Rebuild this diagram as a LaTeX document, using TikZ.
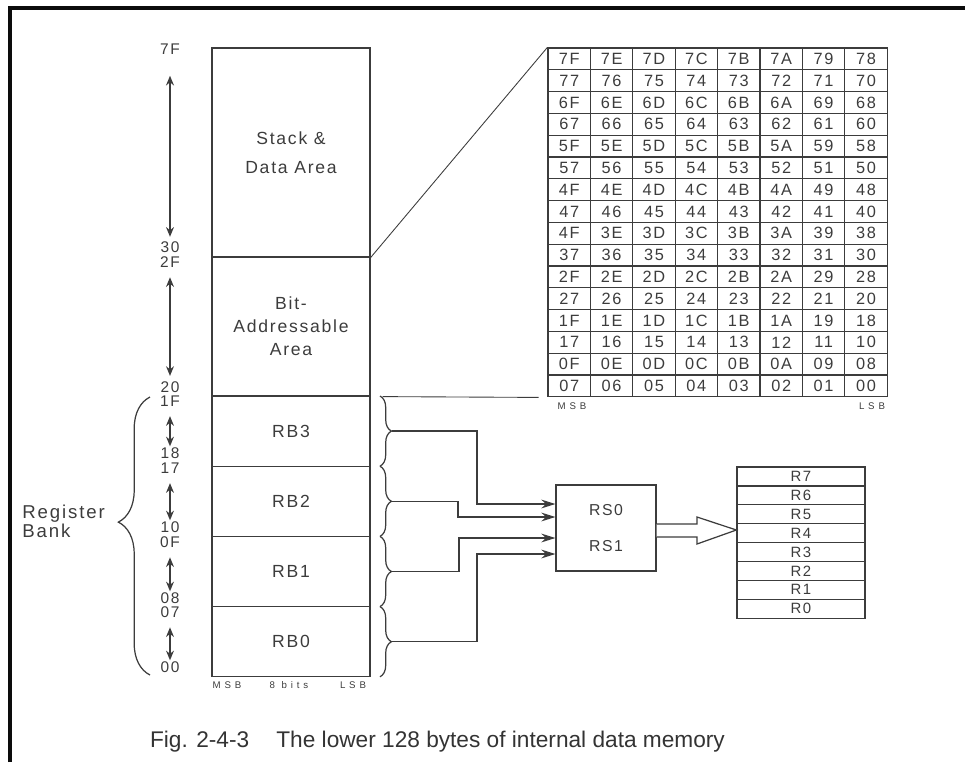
\documentclass[tikz,border=0pt]{standalone}
\usepackage{fontspec}
\setmainfont{Liberation Sans}
\newfontfamily\scanfont[LetterSpace=10]{Liberation Sans}
\newfontfamily\widefont[LetterSpace=40]{Liberation Sans}
\usetikzlibrary{positioning,calc,arrows.meta,decorations.pathreplacing}
\definecolor{ScanInk}{RGB}{60,60,60}
\definecolor{FrameBlack}{RGB}{12,12,12}

\begin{document}
\begin{tikzpicture}[
    x=0.02cm,
    y=-0.02cm,
    text=ScanInk,
    font=\scanfont\fontsize{10}{12}\selectfont,
    area/.style={
        draw=ScanInk,
        line width=0.7pt,
        minimum width=3.16cm,
        inner sep=0pt,
        align=center
    },
    cell/.style={
        draw=ScanInk,
        line width=0.7pt,
        minimum width=0.848cm,
        minimum height=0.436cm,
        inner sep=0pt,
        font=\scanfont\fontsize{9.3}{10}\selectfont
    },
    regrow/.style={
        draw=ScanInk,
        line width=0.7pt,
        minimum width=2.56cm,
        minimum height=0.378cm,
        inner sep=0pt,
        font=\scanfont\fontsize{8.5}{9}\selectfont
    },
    addr/.style={
        inner sep=0pt,
        font=\scanfont\fontsize{8.8}{9}\selectfont
    },
    bitnote/.style={
        inner sep=0pt,
        font=\widefont\fontsize{5.5}{6}\selectfont
    },
    span/.style={
        {Stealth[length=5.5pt,width=4.5pt]}-{Stealth[length=5.5pt,width=4.5pt]},
        draw=ScanInk,
        line width=0.8pt,
        shorten <=5.4pt,
        shorten >=0.5pt
    },
    wire/.style={
        -{Stealth[length=8pt,width=5pt]},
        draw=ScanInk,
        line width=0.7pt
    },
    bankbrace/.style={
        decorate,
        decoration={brace, amplitude=#1},
        draw=ScanInk,
        line width=0.7pt
    },
    zoomline/.style={
        draw=ScanInk,
        line width=0.5pt
    }
]

\useasboundingbox (0,0) rectangle (965,762);
\draw[line width=2.3pt, FrameBlack] (10,762) -- (10,8) -- (965,8);

\node[area, minimum height=4.18cm] (stack) at (291,152.5) {Stack \&\\[4.4pt]Data Area};
\node[area, minimum height=2.78cm, font=\scanfont\fontsize{10}{13}\selectfont] (bit) at (291,326.5) {Bit-\\Addressable\\Area};
\foreach \bank [count=\k from 0] in {3,2,1,0} {
    \node[area, minimum height=1.404cm] (rb\bank) at (291,431.1+70.2*\k) {RB\bank};
    \draw[bankbrace=6.5pt] (380,396+70.2*\k) -- (380,466.2+70.2*\k);
    \coordinate (tip\bank) at (391.5,431.1+70.2*\k);
}

\node[bitnote] (msb) at (227,685) {MSB};
\node[bitnote] (bits) at (289,685) {8 bits};
\node[bitnote] (lsb) at (353,685) {LSB};

\node[addr] (a7F) at (170,49) {7F};
\node[addr] (a30) at (170,247) {30};
\node[addr] (a2F) at (170,262) {2F};
\node[addr] (a20) at (170,387) {20};
\node[addr] (a1F) at (170,401) {1F};
\node[addr] (a18) at (170,453) {18};
\node[addr] (a17) at (170,468) {17};
\node[addr] (a10) at (170,527) {10};
\node[addr] (a0F) at (170,542) {0F};
\node[addr] (a08) at (170,598) {08};
\node[addr] (a07) at (170,612) {07};
\node[addr] (a00) at (170,667) {00};

\draw[span, shorten <=12pt, shorten >=2.5pt] (a7F) -- (a30);
\draw[span, shorten >=3pt] (a2F) -- (a20);
\draw[span] (a1F) -- (a18);
\draw[span] (a17) -- (a10);
\draw[span] (a0F) -- (a08);
\draw[span] (a07) -- (a00);

\draw[bankbrace=18pt, decoration={aspect=0.55}] (150,675) -- (150,397);
\node[anchor=west, align=left, inner sep=0pt, font=\scanfont\fontsize{10.6}{9}\selectfont] (bank) at (22,521) {Register\\Bank};

\foreach \row [count=\rowidx from 0] in {
    {7F,7E,7D,7C,7B,7A,79,78},
    {77,76,75,74,73,72,71,70},
    {6F,6E,6D,6C,6B,6A,69,68},
    {67,66,65,64,63,62,61,60},
    {5F,5E,5D,5C,5B,5A,59,58},
    {57,56,55,54,53,52,51,50},
    {4F,4E,4D,4C,4B,4A,49,48},
    {47,46,45,44,43,42,41,40},
    {4F,3E,3D,3C,3B,3A,39,38},
    {37,36,35,34,33,32,31,30},
    {2F,2E,2D,2C,2B,2A,29,28},
    {27,26,25,24,23,22,21,20},
    {1F,1E,1D,1C,1B,1A,19,18},
    {17,16,15,14,13,12,11,10},
    {0F,0E,0D,0C,0B,0A,09,08},
    {07,06,05,04,03,02,01,00}} {
    \foreach \val [count=\colidx from 0] in \row {
        \node[cell] (m-\rowidx-\colidx) at (569.2+42.4*\colidx,58.9+21.8*\rowidx) {\val};
    }
}
\node[bitnote] (gmsb) at (572,406) {MSB};
\node[bitnote] (glsb) at (872,406) {LSB};

\draw[zoomline] (stack.south east) -- (m-0-0.north west);
\draw[zoomline] ([xshift=6.8pt]bit.south east) -- ([xshift=-5pt]m-15-0.south west);

\node[draw=ScanInk, line width=0.7pt, minimum width=2cm, minimum height=1.72cm, align=center,
      font=\scanfont\fontsize{9}{20}\selectfont] (rs) at (606,528) {RS0\\RS1};

\draw[wire] (tip3) -| (477,504) -- (rs.west |- 0,504);
\draw[wire] (tip2) -| (458,517) -- (rs.west |- 0,517);
\draw[wire] (tip1) -| (459,538) -- (rs.west |- 0,538);
\draw[wire] (tip0) -| (477,554) -- (rs.west |- 0,554);

\foreach \reg [count=\k from 0] in {7,6,5,4,3,2,1,0} {
    \node[regrow] (r\reg) at (801,476.45+18.9*\k) {R\reg};
}

\draw[draw=ScanInk, line width=0.7pt, fill=white]
    (rs.east |- 0,524) -- (697,524) -- (697,517) -- (r4.west |- 0,530)
    -- (697,544) -- (697,537) -- (rs.east |- 0,537);

\node[font=\fontsize{12.9}{14}\selectfont, text=black!80] (caption) at (437.5,742)
    {Fig. 2-4-3\hspace{1.2em}The lower 128 bytes of internal data memory};

\end{tikzpicture}
\end{document}
